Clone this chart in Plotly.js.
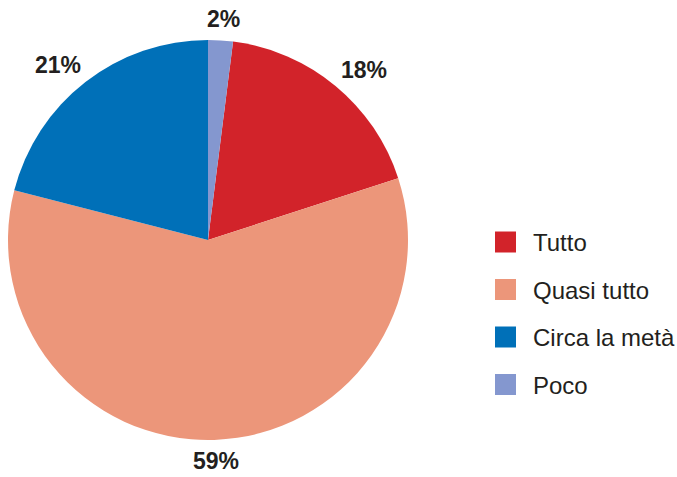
<!DOCTYPE html>
<html>
<head>
<meta charset="utf-8">
<script src="https://cdn.plot.ly/plotly-3.0.1.min.js"></script>
<style>
html,body{margin:0;padding:0;background:#fff;}
#chart{width:677px;height:477px;}
</style>
</head>
<body>
<div id="chart"></div>
<script>
var categories = ["Tutto", "Quasi tutto", "Circa la metà", "Poco"];
var values = [18, 59, 21, 2];
var colors = ["#d2232a", "#ec967a", "#0070b8", "#8497cf"];

var W = 677, H = 477;
var CX = 208, CY = 240, R = 200;
var startAngle = 7.2; // degrees clockwise from 12 o'clock

var trace = {
  type: "pie",
  labels: categories,
  values: values,
  sort: false,
  direction: "clockwise",
  rotation: startAngle,
  marker: {colors: colors, line: {width: 0}},
  textinfo: "none",
  domain: {x: [(CX - R) / W, (CX + R) / W], y: [(H - CY - R) / H, (H - CY + R) / H]},
  hoverinfo: "none"
};

// percentage labels placed outside each slice at its mid-angle
var total = values.reduce(function (a, b) { return a + b; }, 0);
var annotations = [];
var acc = 0;
values.forEach(function (v) {
  var mid = (startAngle + (acc + v / 2) / total * 360) * Math.PI / 180;
  acc += v;
  var s = Math.sin(mid), c = Math.cos(mid);
  var px = CX + s * (R + 10 + 35);
  var py = CY - c * (R + 10 + 11);
  annotations.push({
    xref: "paper", yref: "paper",
    x: px / W, y: 1 - py / H,
    xanchor: "center", yanchor: "middle",
    text: Math.round(v / total * 100) + "%",
    showarrow: false,
    font: {family: "Liberation Sans, Arial, sans-serif", size: 23, color: "#231f20", weight: "bold"}
  });
});

var layout = {
  width: W, height: H,
  margin: {l: 0, r: 0, t: 0, b: 0},
  paper_bgcolor: "#fff",
  showlegend: true,
  annotations: annotations,
  legend: {
    x: 485 / W, y: 0.5, xanchor: "left", yanchor: "middle",
    font: {family: "Liberation Sans, Arial, sans-serif", size: 24, color: "#231f20"},
    bgcolor: "rgba(0,0,0,0)",
    itemclick: false, itemdoubleclick: false
  }
};

Plotly.newPlot("chart", [trace], layout, {staticPlot: true, displayModeBar: false}).then(function (gd) {
  var items = gd.querySelectorAll(".legend .traces");
  var rowY = [242, 289.5, 337, 384.5];
  var legendG = gd.querySelector(".legend");
  var sb = gd.querySelector(".legend .scrollbox");
  if (sb) sb.removeAttribute("clip-path");
  var lt = legendG.getAttribute("transform") || "";
  var m = /translate\(\s*([-\d.]+)[ ,]+([-\d.]+)/.exec(lt);
  var lx = m ? parseFloat(m[1]) : 0, ly = m ? parseFloat(m[2]) : 0;
  items.forEach(function (it, i) {
    it.setAttribute("transform", "translate(0," + (rowY[i] - ly) + ")");
    var p = it.querySelector(".legendpoints path");
    if (p) p.setAttribute("transform", "translate(" + (505.5 - lx) + ",0) scale(1.75)");
    var t = it.querySelector("text");
    if (t) { t.setAttribute("x", 533 - lx); }
  });
  var lp = gd.querySelectorAll(".legend .legendpoints");
  lp.forEach(function (g) { g.setAttribute("transform", ""); });
});
</script>
</body>
</html>
